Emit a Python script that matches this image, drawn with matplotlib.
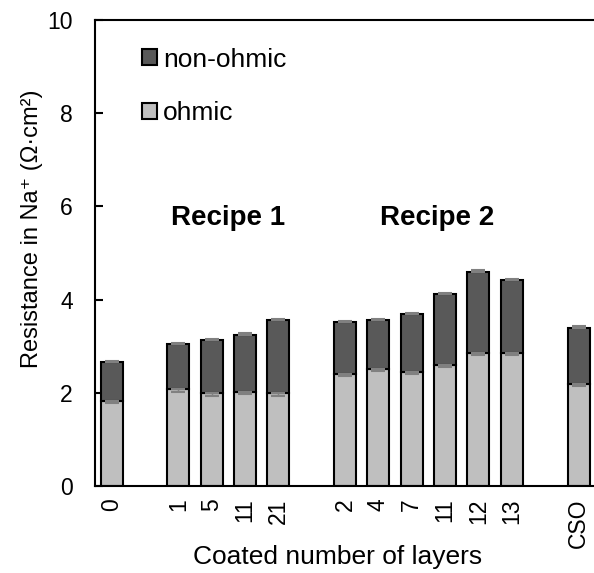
import matplotlib.pyplot as plt
import numpy as np

plt.rcParams['font.family'] = ['Liberation Sans', 'DejaVu Sans']
plt.rcParams['font.size'] = 19

# slot positions (empty slots between groups)
pos = [0, 2, 3, 4, 5, 7, 8, 9, 10, 11, 12, 14]
etiquetas = ['0', '1', '5', '11', '21', '2', '4', '7', '11', '12', '13', 'CSO']
ohmic = [1.82, 2.07, 1.99, 2.02, 1.99, 2.41, 2.52, 2.45, 2.60, 2.85, 2.85, 2.19]
total = [2.65, 3.04, 3.13, 3.25, 3.56, 3.52, 3.56, 3.68, 4.12, 4.60, 4.41, 3.40]
err_ohmic = [0.05] * 12
err_total = [0.03] * 12

non_ohmic = [t - o for t, o in zip(total, ohmic)]

fig = plt.figure(figsize=(5.94, 5.73), dpi=100)
ax = fig.add_axes([0.160, 0.152, 0.842, 0.813])

ax.bar(pos, ohmic, width=0.66, color='#bfbfbf', edgecolor='black', linewidth=1.5,
       label='ohmic', zorder=2)
ax.bar(pos, non_ohmic, bottom=ohmic, width=0.66, color='#595959', edgecolor='black',
       linewidth=1.5, label='non-ohmic', zorder=2)
ax.errorbar(pos, ohmic, yerr=[err_ohmic, [0] * 12], fmt='none', ecolor='#808080',
            capsize=5, elinewidth=1, capthick=1.5, zorder=3)
ax.errorbar(pos, total, yerr=[[0] * 12, err_total], fmt='none', ecolor='#808080',
            capsize=5, elinewidth=1, capthick=1.5, zorder=3)

ax.text(3.5, 5.75, 'Recipe 1', fontsize=20, fontweight='bold', ha='center', va='center')
ax.text(9.75, 5.75, 'Recipe 2', fontsize=20, fontweight='bold', ha='center', va='center')

ax.set_xlim(-0.5, 14.5)
ax.set_ylim(0, 10)
ax.set_yticks([0, 2, 4, 6, 8, 10])
ax.set_xticks(pos)
ax.set_xticklabels(etiquetas, rotation=90)
ax.tick_params(axis='x', length=0, pad=9, labelsize=16.5)
ax.tick_params(axis='y', direction='in', length=6, width=1.5, pad=16, labelsize=16.5)
for s in ['left', 'bottom', 'top']:
    ax.spines[s].set_linewidth(1.5)
ax.spines['right'].set_visible(False)

ax.set_xlabel('Coated number of layers', va='top')
ax.xaxis.set_label_coords(0.484, -0.127)
ax.set_ylabel('Resistance in Na⁺ (Ω·cm²)', fontsize=17)
ax.yaxis.set_label_coords(-0.104, 0.553)

h, l = ax.get_legend_handles_labels()
ax.legend(h[::-1], l[::-1], loc='upper left', bbox_to_anchor=(0.094, 0.941), frameon=False,
          borderpad=0, borderaxespad=0, handlelength=0.55, handleheight=0.55,
          handletextpad=0.25, labelspacing=1.13)

fig.savefig('out.png', dpi=100)
